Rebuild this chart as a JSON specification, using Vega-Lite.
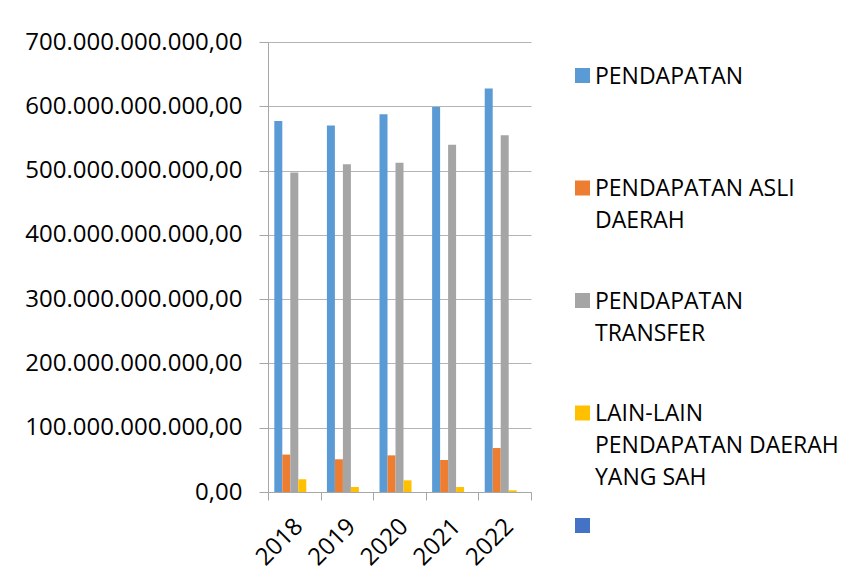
{
  "$schema": "https://vega.github.io/schema/vega-lite/v6.json",
  "width": 263,
  "height": 450,
  "autosize": "none",
  "padding": {"left": 268, "top": 42, "right": 326, "bottom": 89},
  "background": "white",
  "config": {
    "locale": {"number": {"decimal": ",", "thousands": ".", "grouping": [3], "currency": ["Rp", ""]}},
    "view": {"stroke": null},
    "font": "Open Sans",
    "axis": {
      "domainColor": "#a6a6a6",
      "tickColor": "#a6a6a6",
      "gridColor": "#b4b4b4",
      "labelColor": "#000000",
      "labelFont": "Open Sans",
      "labelFontSize": 24,
      "labelLimit": 400,
      "title": null
    }
  },
  "data": {
    "values": [
      {"Tahun": "2018", "Komponen": "PENDAPATAN", "Nilai": 577000000000},
      {"Tahun": "2018", "Komponen": "PENDAPATAN ASLI DAERAH", "Nilai": 58200000000},
      {"Tahun": "2018", "Komponen": "PENDAPATAN TRANSFER", "Nilai": 497000000000},
      {"Tahun": "2018", "Komponen": "LAIN-LAIN PENDAPATAN DAERAH YANG SAH", "Nilai": 19800000000},
      {"Tahun": "2019", "Komponen": "PENDAPATAN", "Nilai": 570000000000},
      {"Tahun": "2019", "Komponen": "PENDAPATAN ASLI DAERAH", "Nilai": 50900000000},
      {"Tahun": "2019", "Komponen": "PENDAPATAN TRANSFER", "Nilai": 510000000000},
      {"Tahun": "2019", "Komponen": "LAIN-LAIN PENDAPATAN DAERAH YANG SAH", "Nilai": 7800000000},
      {"Tahun": "2020", "Komponen": "PENDAPATAN", "Nilai": 587500000000},
      {"Tahun": "2020", "Komponen": "PENDAPATAN ASLI DAERAH", "Nilai": 57000000000},
      {"Tahun": "2020", "Komponen": "PENDAPATAN TRANSFER", "Nilai": 512000000000},
      {"Tahun": "2020", "Komponen": "LAIN-LAIN PENDAPATAN DAERAH YANG SAH", "Nilai": 18200000000},
      {"Tahun": "2021", "Komponen": "PENDAPATAN", "Nilai": 599000000000},
      {"Tahun": "2021", "Komponen": "PENDAPATAN ASLI DAERAH", "Nilai": 49800000000},
      {"Tahun": "2021", "Komponen": "PENDAPATAN TRANSFER", "Nilai": 540000000000},
      {"Tahun": "2021", "Komponen": "LAIN-LAIN PENDAPATAN DAERAH YANG SAH", "Nilai": 7800000000},
      {"Tahun": "2022", "Komponen": "PENDAPATAN", "Nilai": 627500000000},
      {"Tahun": "2022", "Komponen": "PENDAPATAN ASLI DAERAH", "Nilai": 68400000000},
      {"Tahun": "2022", "Komponen": "PENDAPATAN TRANSFER", "Nilai": 555000000000},
      {"Tahun": "2022", "Komponen": "LAIN-LAIN PENDAPATAN DAERAH YANG SAH", "Nilai": 2600000000}
    ]
  },
  "mark": {"type": "bar"},
  "encoding": {
    "x": {
      "field": "Tahun",
      "type": "nominal",
      "scale": {"paddingInner": 0, "paddingOuter": 0},
      "axis": {
        "labelAngle": -45,
        "tickBand": "extent",
        "tickSize": 8,
        "labelPadding": 14,
        "labelOffset": -4,
        "grid": false
      }
    },
    "xOffset": {
      "field": "Komponen",
      "type": "nominal",
      "scale": {
        "domain": ["PENDAPATAN", "PENDAPATAN ASLI DAERAH", "PENDAPATAN TRANSFER", "LAIN-LAIN PENDAPATAN DAERAH YANG SAH", " "],
        "paddingInner": 0,
        "paddingOuter": 0.79
      }
    },
    "y": {
      "field": "Nilai",
      "type": "quantitative",
      "scale": {"domain": [0, 700000000000], "nice": false},
      "axis": {
        "values": [0, 100000000000, 200000000000, 300000000000, 400000000000, 500000000000, 600000000000, 700000000000],
        "format": ",.2f",
        "tickSize": 9,
        "labelPadding": 17
      }
    },
    "color": {
      "field": "Komponen",
      "type": "nominal",
      "scale": {
        "domain": ["PENDAPATAN", "PENDAPATAN ASLI DAERAH", "PENDAPATAN TRANSFER", "LAIN-LAIN PENDAPATAN DAERAH YANG SAH", " "],
        "range": ["#5B9BD5", "#ED7D31", "#A5A5A5", "#FFC000", "#4472C4"]
      },
      "legend": {
        "title": null,
        "orient": "none",
        "legendX": 303,
        "legendY": 22,
        "padding": 0,
        "symbolType": "square",
        "symbolSize": 225,
        "symbolStrokeWidth": 0,
        "labelFont": "Open Sans",
        "labelFontSize": 23,
        "labelColor": "#000000",
        "labelLimit": 400,
        "labelOffset": 1,
        "labelBaseline": "alphabetic",
        "rowPadding": 23.5,
        "labelExpr": "datum.label == 'PENDAPATAN ASLI DAERAH' ? ['PENDAPATAN ASLI', 'DAERAH', ''] : datum.label == 'PENDAPATAN TRANSFER' ? ['PENDAPATAN', 'TRANSFER', ''] : datum.label == 'LAIN-LAIN PENDAPATAN DAERAH YANG SAH' ? ['LAIN-LAIN', 'PENDAPATAN DAERAH', 'YANG SAH'] : datum.label == 'PENDAPATAN' ? ['PENDAPATAN', '', ''] : ['', '', '']",
        "encoding": {
          "labels": {
            "dy": {"value": 8},
            "lineHeight": {"value": 32}
          }
        }
      }
    }
  }
}
